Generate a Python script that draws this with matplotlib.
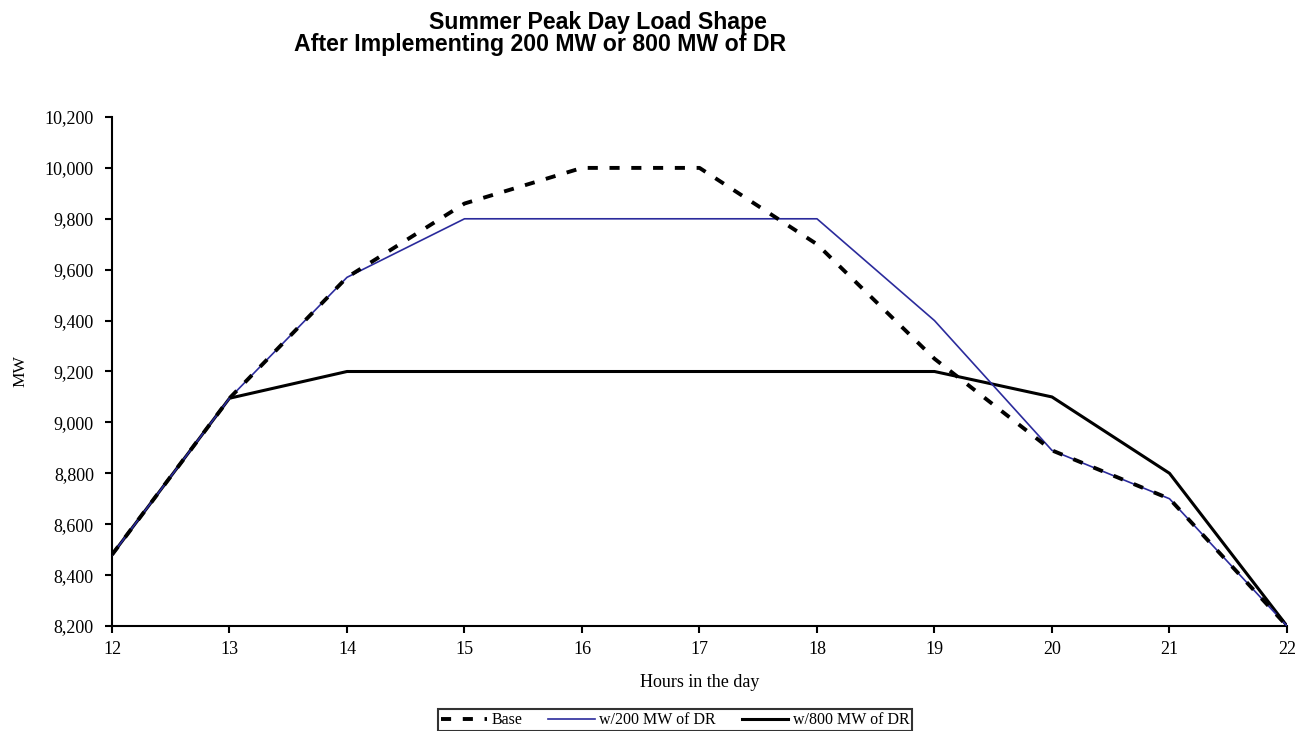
import matplotlib.pyplot as plt
import matplotlib.ticker as ticker

hours = [12, 13, 14, 15, 16, 17, 18, 19, 20, 21, 22]
base = [8480, 9095, 9570, 9860, 10000, 10000, 9700, 9250, 8890, 8700, 8200]
dr200 = [8480, 9095, 9570, 9800, 9800, 9800, 9800, 9400, 8890, 8700, 8200]
dr800 = [8480, 9095, 9200, 9200, 9200, 9200, 9200, 9200, 9100, 8800, 8200]

fig = plt.figure(figsize=(12.95, 7.31), dpi=100)
# axes box (pixels -> figure fraction)
ax = fig.add_axes([112 / 1295, 1 - 626 / 731, (1287 - 112) / 1295, (626 - 117) / 731])

ax.plot(hours, dr800, color='black', linewidth=2.2, label='w/800 MW of DR', zorder=2)
ax.plot(hours, dr200, color='#2b2b9c', linewidth=1.2, label='w/200 MW of DR', zorder=3)
ax.plot(hours, base, color='black', linewidth=2.8, linestyle=(0, (2.6, 3.0)), label='Base', zorder=4)

ax.set_xlim(12, 22)
ax.set_ylim(8200, 10200)
ax.set_xticks(hours)
ax.set_yticks(range(8200, 10201, 200))
ax.yaxis.set_major_formatter(ticker.FuncFormatter(lambda v, p: '{:,.0f}'.format(v)))
for s in ['top', 'right']:
    ax.spines[s].set_visible(False)
for s in ['left', 'bottom']:
    ax.spines[s].set_linewidth(1.5)
ax.tick_params(direction='out', length=5, width=1.5, labelsize=13)
ax.tick_params(axis='y', pad=8)
ax.tick_params(axis='x', pad=6)
for lbl in ax.get_xticklabels() + ax.get_yticklabels():
    lbl.set_family('Liberation Serif')

ax.set_xlabel('Hours in the day', family='Liberation Serif', fontsize=13, labelpad=11)
ax.set_ylabel('MW', family='Liberation Serif', fontsize=12.5, labelpad=12)

fig.text(598 / 1295, 1 - 23 / 731, 'Summer Peak Day Load Shape', ha='center', va='center',
         family='Liberation Sans', fontweight='bold', fontsize=16.7)
fig.text(540 / 1295, 1 - 45 / 731, 'After Implementing 200 MW or 800 MW of DR', ha='center', va='center',
         family='Liberation Sans', fontweight='bold', fontsize=16.7)

h, l = ax.get_legend_handles_labels()
order = [2, 1, 0]
leg = fig.legend([h[i] for i in order], [l[i] for i in order], loc='upper center',
                 bbox_to_anchor=(675 / 1295, 1 - 709 / 731), ncol=3, frameon=True, fancybox=False,
                 prop={'family': 'Liberation Serif', 'size': 11.5}, handlelength=2.9,
                 handletextpad=0.3, columnspacing=1.6, borderpad=0.2, borderaxespad=0)
leg.get_frame().set_edgecolor('black')
leg.get_frame().set_linewidth(1.5)

fig.savefig('out.png', dpi=100)
